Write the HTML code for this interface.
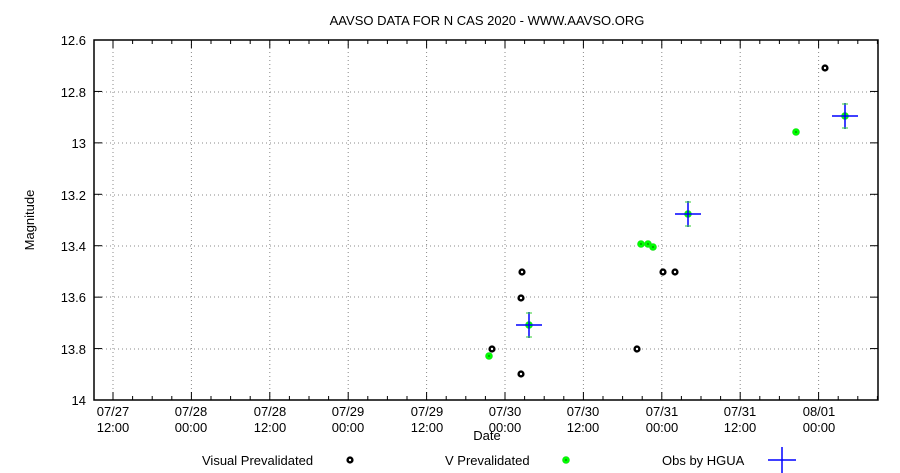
<!DOCTYPE html>
<html><head><style>body{margin:0;background:#fff}svg{display:block}text{font-family:"Liberation Sans",sans-serif;font-size:13px;fill:#000}</style></head>
<body>
<svg width="900" height="473" viewBox="0 0 900 473">
<defs>
<g id="b"><circle r="3.6" fill="#000"/><circle r="1.2" fill="#fff"/></g>
<g id="g"><circle r="3.8" fill="#3c3"/><circle r="3.4" fill="#0f0"/><circle r="1.1" fill="#0a0"/></g>
<g id="c"><line x1="-13" y1="0" x2="13" y2="0" stroke="#00f" stroke-width="1.5"/><line x1="0" y1="-13" x2="0" y2="13" stroke="#00f" stroke-width="1.5"/><line x1="-3" y1="-12" x2="3" y2="-12" stroke="#3c3"/><line x1="-3" y1="12" x2="3" y2="12" stroke="#3c3"/></g>
</defs>
<text x="487" y="25" text-anchor="middle">AAVSO DATA FOR N CAS 2020 - WWW.AAVSO.ORG</text>
<g stroke="#888" stroke-dasharray="1,3" stroke-width="1">
<line x1="94" y1="92" x2="878" y2="92"/><line x1="94" y1="143" x2="878" y2="143"/><line x1="94" y1="195" x2="878" y2="195"/><line x1="94" y1="246" x2="878" y2="246"/><line x1="94" y1="297" x2="878" y2="297"/><line x1="94" y1="349" x2="878" y2="349"/>
<line x1="113" y1="40" x2="113" y2="400"/><line x1="191.4" y1="40" x2="191.4" y2="400"/><line x1="269.8" y1="40" x2="269.8" y2="400"/><line x1="348.2" y1="40" x2="348.2" y2="400"/><line x1="426.6" y1="40" x2="426.6" y2="400"/><line x1="505" y1="40" x2="505" y2="400"/><line x1="583.4" y1="40" x2="583.4" y2="400"/><line x1="661.8" y1="40" x2="661.8" y2="400"/><line x1="740.2" y1="40" x2="740.2" y2="400"/><line x1="818.6" y1="40" x2="818.6" y2="400"/>
</g>
<rect x="94" y="40" width="784" height="360" fill="none" stroke="#000" stroke-width="1.5"/>
<g stroke="#000" stroke-width="1" id="ticks"></g>
<g font-size="13">
<text x="86" y="45" text-anchor="end">12.6</text><text x="86" y="97" text-anchor="end">12.8</text><text x="86" y="148" text-anchor="end">13</text><text x="86" y="200" text-anchor="end">13.2</text><text x="86" y="251" text-anchor="end">13.4</text><text x="86" y="302" text-anchor="end">13.6</text><text x="86" y="354" text-anchor="end">13.8</text><text x="86" y="405" text-anchor="end">14</text>
</g>
<g text-anchor="middle">
<text x="113" y="416">07/27</text><text x="113" y="432">12:00</text>
<text x="191" y="416">07/28</text><text x="191" y="432">00:00</text>
<text x="270" y="416">07/28</text><text x="270" y="432">12:00</text>
<text x="348" y="416">07/29</text><text x="348" y="432">00:00</text>
<text x="427" y="416">07/29</text><text x="427" y="432">12:00</text>
<text x="505" y="416">07/30</text><text x="505" y="432">00:00</text>
<text x="583" y="416">07/30</text><text x="583" y="432">12:00</text>
<text x="662" y="416">07/31</text><text x="662" y="432">00:00</text>
<text x="740" y="416">07/31</text><text x="740" y="432">12:00</text>
<text x="819" y="416">08/01</text><text x="819" y="432">00:00</text>
<text x="487" y="440">Date</text>
</g>
<text transform="translate(34,220) rotate(-90)" text-anchor="middle">Magnitude</text>
<use href="#b" x="492" y="349"/><use href="#b" x="522" y="272"/><use href="#b" x="521" y="298"/><use href="#b" x="521" y="374"/><use href="#b" x="637" y="349"/><use href="#b" x="663" y="272"/><use href="#b" x="675" y="272"/><use href="#b" x="825" y="68"/>
<use href="#g" x="489" y="356"/><use href="#g" x="529" y="325"/><use href="#g" x="641" y="244"/><use href="#g" x="648" y="244"/><use href="#g" x="653" y="247"/><use href="#g" x="796" y="132"/><use href="#g" x="845" y="116"/><use href="#g" x="688" y="214"/>
<use href="#c" x="529" y="325"/><use href="#c" x="688" y="214"/><use href="#c" x="845" y="116"/>
<text x="202" y="465">Visual Prevalidated</text><use href="#b" x="350" y="460"/>
<text x="445" y="465">V Prevalidated</text><use href="#g" x="566" y="460"/>
<text x="662" y="465">Obs by HGUA</text>
<line x1="768" y1="460" x2="796" y2="460" stroke="#00f" stroke-width="1.5"/><line x1="782" y1="447" x2="782" y2="473" stroke="#00f" stroke-width="1.5"/>
</svg>
<script>
var t=document.getElementById('ticks'),s='';
for(var i=-1;i<45;i++){var x=113+i*19.6;if(x<94||x>878)continue;var L=(i%4==0)?8:4;s+='<line x1="'+x+'" y1="400" x2="'+x+'" y2="'+(400-L)+'"/><line x1="'+x+'" y1="40" x2="'+x+'" y2="'+(40+L)+'"/>';}
for(var j=0;j<8;j++){var y=40+j*51.43;s+='<line x1="94" y1="'+y+'" x2="102" y2="'+y+'"/><line x1="878" y1="'+y+'" x2="870" y2="'+y+'"/>';}
t.innerHTML=s;
</script>
</body></html>
